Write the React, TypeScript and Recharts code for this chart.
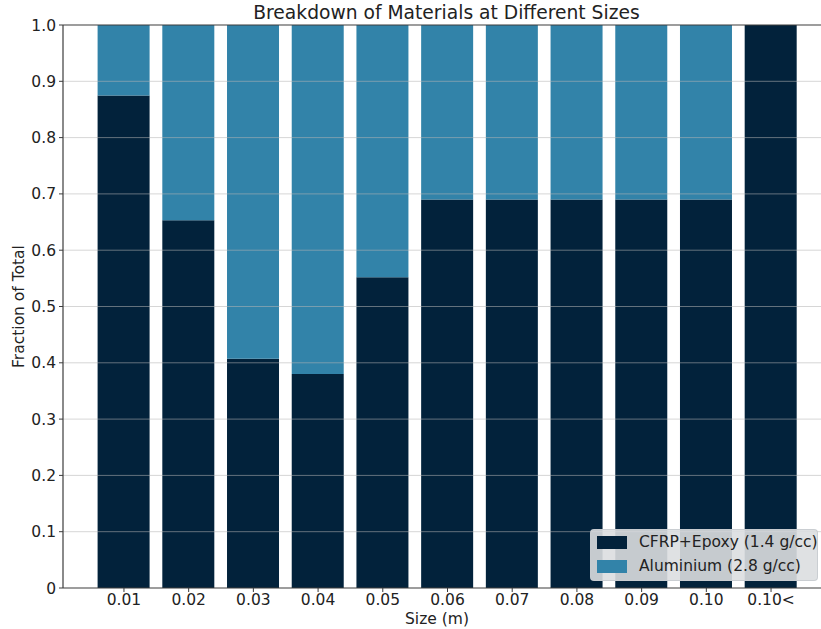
import React from "react";
import { BarChart, Bar, XAxis, YAxis, ReferenceLine, Label } from "recharts";

const sizes = ["0.01", "0.02", "0.03", "0.04", "0.05", "0.06", "0.07", "0.08", "0.09", "0.10", "0.10<"];
const cfrp = [0.875, 0.653, 0.407, 0.38, 0.552, 0.69, 0.69, 0.69, 0.69, 0.69, 1.0];
const aluminium = [0.125, 0.347, 0.593, 0.62, 0.448, 0.31, 0.31, 0.31, 0.31, 0.31, 0.0];
const yTicks = [0, 0.1, 0.2, 0.3, 0.4, 0.5, 0.6, 0.7, 0.8, 0.9, 1.0];
const seriesNames = ["CFRP+Epoxy (1.4 g/cc)", "Aluminium (2.8 g/cc)"];

const CFRP_COLOR = "#02223b";
const AL_COLOR = "#3283a9";
const TEXT = "#222222";
const SPINE = "#3c3c3c";
const FONT = "'DejaVu Sans', Verdana, sans-serif";
const FS = 15.5;

const data = sizes.map((s, i) => ({ size: s, cfrp: cfrp[i], aluminium: aluminium[i] }));

const fmtY = (v: number) => (v === 0 ? "0" : v.toFixed(1));

export default function App() {
  return (
    <div style={{ position: "absolute", left: 0, top: 0, width: 821, height: 629, overflow: "hidden", background: "#fff", fontFamily: FONT }}>
      <div
        style={{
          position: "absolute",
          left: 0,
          width: 893,
          top: 2,
          textAlign: "center",
          fontSize: 18.7,
          color: TEXT,
          fontFamily: FONT,
        }}
      >
        Breakdown of Materials at Different Sizes
      </div>
      <BarChart
        width={821}
        height={629}
        data={data}
        margin={{ top: 25, right: 0, bottom: 0, left: 0 }}
        barSize={52}
        style={{ position: "absolute", left: 0, top: 0 }}
      >
        <XAxis
          dataKey="size"
          height={41}
          padding={{ left: 28.6, right: 17.6 }}
          axisLine={{ stroke: SPINE, strokeWidth: 1.2 }}
          tickLine={{ stroke: SPINE }}
          tickSize={4}
          tick={{ fill: TEXT, fontSize: FS, fontFamily: FONT }}
          tickMargin={2}
          interval={0}
        >
          <Label value="Size (m)" position="insideBottom" offset={0} dx={-5} dy={-5} style={{ fill: TEXT, fontSize: FS, fontFamily: FONT }} />
        </XAxis>
        <YAxis
          width={63}
          type="number"
          domain={[0, 1]}
          ticks={yTicks}
          tickFormatter={fmtY}
          axisLine={{ stroke: SPINE, strokeWidth: 1.2 }}
          tickLine={{ stroke: SPINE }}
          tickSize={4}
          tickMargin={3}
          tick={{ fill: TEXT, fontSize: FS, fontFamily: FONT }}
          allowDataOverflow
        >
          <Label
            value="Fraction of Total"
            angle={-90}
            position="insideLeft"
            offset={18}
            style={{ fill: TEXT, fontSize: FS, fontFamily: FONT, textAnchor: "middle" }}
          />
        </YAxis>
        <Bar dataKey="cfrp" stackId="m" fill={CFRP_COLOR} name={seriesNames[0]} isAnimationActive={false} />
        <Bar dataKey="aluminium" stackId="m" fill={AL_COLOR} name={seriesNames[1]} isAnimationActive={false} />
        {yTicks.slice(1, 10).map((t) => (
          <ReferenceLine key={t} y={t} stroke="#b4b4b4" strokeOpacity={0.55} strokeWidth={1} />
        ))}
        <ReferenceLine y={1} stroke={SPINE} strokeWidth={1.2} />
      </BarChart>
      <div
        style={{
          position: "absolute",
          left: 590,
          top: 529,
          width: 228,
          height: 52,
          boxSizing: "border-box",
          background: "rgba(220,222,224,0.9)",
          border: "1px solid rgba(200,204,208,0.9)",
          borderRadius: 4,
          fontFamily: FONT,
          fontSize: FS,
          color: TEXT,
        }}
      >
        {[CFRP_COLOR, AL_COLOR].map((c, i) => (
          <div key={i} style={{ position: "absolute", left: 6, top: 2 + i * 24, height: 20, display: "flex", alignItems: "center" }}>
            <span style={{ display: "inline-block", width: 30, height: 13, background: c, marginRight: 12 }} />
            <span style={{ whiteSpace: "nowrap" }}>{seriesNames[i]}</span>
          </div>
        ))}
      </div>
    </div>
  );
}
